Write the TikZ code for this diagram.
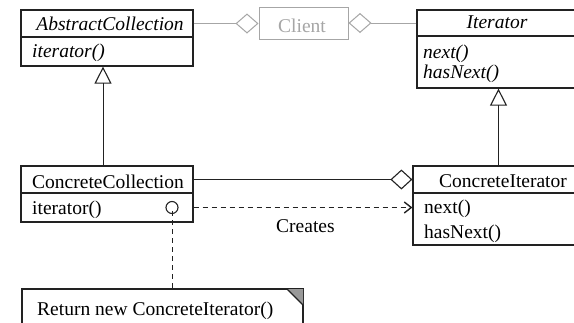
\documentclass[tikz,border=0pt]{standalone}
\usepackage{fontspec}
\setmainfont{Liberation Serif}
\usetikzlibrary{arrows.meta}
\definecolor{ink}{HTML}{222222}
\definecolor{pale}{HTML}{A6A6A6}
\tikzset{
  box/.style={draw=ink, line width=1.2pt, fill=white, rectangle, inner sep=0pt},
  label/.style={inner sep=0pt, text=black},
  link/.style={draw=ink, line width=1pt},
  agg/.style={link, -{Diamond[open, length=22pt, width=20pt, line width=1.1pt]}},
  paleagg/.style={draw=pale, line width=1pt, -{Diamond[open, length=23pt, width=20pt, line width=1pt]}},
  gen/.style={link, -{Triangle[open, length=17pt, width=17pt, line width=1.1pt]}},
  dep/.style={link, dash pattern=on 5pt off 4pt, -{Straight Barb[length=7pt, width=11pt, line width=1.4pt]}},
  anchorline/.style={link, dash pattern=on 5pt off 4pt},
}
\begin{document}
\begin{tikzpicture}[x=1pt, y=-1pt, font=\fontsize{19.5}{23}\selectfont]
\clip (0,0) rectangle (574,322);
\fill[white] (0,0) rectangle (574,322);

% class compartments
\node[box, minimum width=172pt, minimum height=27pt] (acT) at (107,23.5) {};
\node[box, minimum width=172pt, minimum height=29pt] (acM) at (107,51.5) {};
\node[box, draw=pale, line width=1pt, minimum width=89pt, minimum height=32pt] (client) at (303.5,23) {};
\node[box, minimum width=163pt, minimum height=26pt] (itT) at (498.5,23) {};
\node[box, minimum width=163pt, minimum height=52pt] (itM) at (498.5,62) {};
\node[box, minimum width=172pt, minimum height=27pt] (ccT) at (107,179.5) {};
\node[box, minimum width=172pt, minimum height=29pt] (ccM) at (107,207.5) {};
\node[box, minimum width=177pt, minimum height=27pt] (ciT) at (501.5,179.5) {};
\node[box, minimum width=177pt, minimum height=52pt] (ciM) at (501.5,219) {};

% note with folded corner
\node[box, minimum width=281pt, minimum height=56pt] (note) at (162.5,317) {};
\fill[black!40] (287,289) -- (303,289) -- (303,305) -- cycle;
\draw[ink, line width=1.1pt] (287,289) -- (303,305);

% connectors
\draw[paleagg] (acT.east) -- (acT.east -| client.west);
\draw[paleagg] (itT.west) -- (itT.west -| client.east);
\draw[gen] ([xshift=-4pt]ccT.north) -- ([xshift=-4pt]acM.south);
\draw[gen] (ciT.north -| itM.south) -- (itM.south);
\draw[agg] (ccT.east) -- (ccT.east -| ciT.west);
\node[draw=ink, line width=1.1pt, circle, minimum size=12pt, inner sep=0pt] (port) at (172,207.5) {};
\draw[dep] (ccM.east) -- (ccM.east -| ciM.west);
\draw[anchorline] ([yshift=3pt]port.south) -- (port.south |- note.north);

% texts
\node[label, anchor=base] (tAC) at (110,30) {\itshape AbstractCollection};
\node[label, anchor=base west] (tACm) at (32,57) {\itshape iterator()};
\node[label, anchor=base, text=pale] (tCl) at (302,32) {Client};
\node[label, anchor=base] (tIt) at (497,28) {\itshape Iterator};
\node[label, anchor=base west] (tItN) at (423,58) {\itshape next()};
\node[label, anchor=base west] (tItH) at (423,78) {\itshape hasNext()};
\node[label, anchor=base west] (tCC) at (32,188) {ConcreteCollection};
\node[label, anchor=base west] (tCCm) at (32,214) {iterator()};
\node[label, anchor=base] (tCI) at (503,187) {ConcreteIterator};
\node[label, anchor=base west] (tCIN) at (424,213) {next()};
\node[label, anchor=base west] (tCIH) at (424,238) {hasNext()};
\node[label, anchor=base west] (tCr) at (276,232) {Creates};
\node[label, anchor=base west] (tNote) at (37,315) {Return new ConcreteIterator()};
\end{tikzpicture}
\end{document}
